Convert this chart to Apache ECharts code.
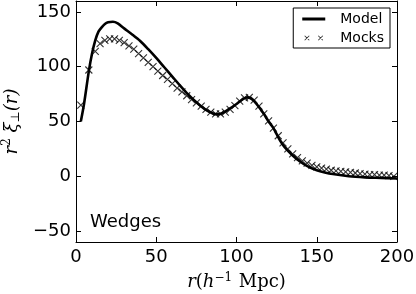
<!DOCTYPE html>
<html>
<head>
<meta charset="utf-8">
<script src="https://cdn.jsdelivr.net/npm/echarts@6/dist/echarts.min.js"></script>
<style>html,body{margin:0;padding:0;background:#fff}#c{width:416px;height:294px}</style>
</head>
<body>
<div id="c"></div>
<script>
// Model curve
const modelR = [3,5,8,10,12,14,16,18,20,23,26,30,35,40,45,50,55,60,65,70,75,80,85,88,91,95,100,104,107,110,113,117,120,123,127,130,135,140,145,150,155,160,170,180,190,200];
const modelV = [50,66,96,112,124,132,136,139,140.5,141,139.5,135,129.5,123.5,116,108,99.5,91,82.5,74.5,67.5,61.5,57.5,56.5,57.5,61,66,70.5,72,70,65,57,50,44,33,26.5,19,13,8.5,5.5,3.5,2,0,-1,-1.5,-2];
// Mocks
const mockR = [3,8,12,15,18,21,24,27,30,33,36,39,42,45,48,51,54,57,60,63,66,69,72,75,78,81,84,87,90,93,96,99,102,105,108,111,114,117,120,123,126,129,132,135,138,141,144,147,150,153,156,159,162,165,168,171,174,177,180,183,186,189,192,195,198];
const mockV = [65,97,114,121,124,125.5,125.5,124,122,119,116,112,108,104,100,96,92,88.5,84.5,80.5,77,73.5,70,67,64,61,58.5,57,57,58.5,61,64.5,68.5,71.5,72,69.5,64,57,50.5,44,37,30.5,25,20.5,17,14,12,10,8.5,7.5,6.5,5.5,5,4.5,4,3.5,3,2.5,2,1.5,1.5,1,1,0.5,0];
const yTicks = [-50,0,50,100,150];
const xTicks = [0,50,100,150,200];
const seriesNames = ['Model','Mocks'];
const panelLabel = 'Wedges';

const crossPath = 'path://M0 0L10 10M10 0L0 10';
function xx(cx,cy,a,d){
  return 'M'+(cx-a+d)+' '+(cy-a)+'L'+(cx+a)+' '+(cy+a-d)+'L'+(cx+a-d)+' '+(cy+a)+'L'+(cx-a)+' '+(cy-a+d)+'Z'+
         'M'+(cx+a-d)+' '+(cy-a)+'L'+(cx+a)+' '+(cy-a+d)+'L'+(cx-a+d)+' '+(cy+a)+'L'+(cx-a)+' '+(cy+a-d)+'Z';
}
const legendMockIcon = 'path://' + xx(4.5,2.5,2.5,0.6) + xx(17.5,2.5,2.5,0.6) + 'M0 0L0.01 0L0.01 0.01Z M21.99 5L22 5L22 4.99Z';
const legendModelIcon = 'path://M0 0L0.01 0L0.01 0.01Z M0 1L22 1L22 4L0 4Z M21.99 5L22 5L22 4.99Z';

const tickCommon = {show:true, inside:true, length:5, lineStyle:{color:'#000', width:1}};
const lineCommon = {show:true, onZero:false, lineStyle:{color:'#000', width:1}};
const labelFont = {fontFamily:'DejaVu Sans', fontSize:18, color:'#000'};

const chart = echarts.init(document.getElementById('c'), null, {renderer:'canvas'});
chart.setOption({
  animation:false,
  backgroundColor:'#fff',
  grid:{left:76, right:19, top:1, bottom:52, containLabel:false, outerBoundsMode:'none'},
  legend:{
    right:26, top:8, orient:'vertical',
    borderColor:'#000', borderWidth:1, borderRadius:0, backgroundColor:'#fff',
    padding:[4,6,3,9], itemGap:5, itemWidth:23, itemHeight:8,
    textStyle:{fontFamily:'DejaVu Sans', fontSize:14, color:'#000', padding:[0,0,0,10]},
    data:[{name:seriesNames[0], icon:legendModelIcon, itemStyle:{color:'#000'}},
          {name:seriesNames[1], icon:legendMockIcon, itemStyle:{color:'#000', borderWidth:0}}]
  },
  xAxis:[{
    type:'value', min:0, max:200, interval:50, position:'bottom',
    axisLine:lineCommon, axisTick:tickCommon, splitLine:{show:false},
    axisLabel:Object.assign({margin:6, customValues:xTicks}, labelFont),
    name:'{i|r}{n|(}{i|h}{s|−1}{n| Mpc)}', nameLocation:'middle', nameGap:30,
    nameTextStyle:{rich:{
      i:{fontFamily:'DejaVu Serif', fontStyle:'italic', fontSize:18, color:'#000'},
      n:{fontFamily:'DejaVu Serif', fontSize:18, color:'#000'},
      s:{fontFamily:'DejaVu Serif', fontSize:12, color:'#000', verticalAlign:'top', padding:[0,1,8,0]}
    }}
  },{
    type:'value', min:0, max:200, interval:50, position:'top',
    axisLine:lineCommon, axisTick:tickCommon, axisLabel:{show:false}, splitLine:{show:false}
  }],
  yAxis:[{
    type:'value', min:-60, max:160, position:'left',
    axisLine:lineCommon, axisTick:Object.assign({customValues:yTicks}, tickCommon), splitLine:{show:false},
    axisLabel:Object.assign({margin:5, customValues:yTicks, formatter:v=>String(v).replace('-','−')}, labelFont),
    name:'{i|r}{s|2}{n| }{i|ξ}{b|⊥}{i|(r)}', nameLocation:'middle', nameGap:52, nameRotate:90,
    nameTextStyle:{rich:{
      i:{fontFamily:'DejaVu Serif', fontStyle:'italic', fontSize:18, color:'#000'},
      n:{fontFamily:'DejaVu Serif', fontSize:18, color:'#000'},
      s:{fontFamily:'DejaVu Serif', fontSize:12, color:'#000', padding:[0,0,10,0]},
      b:{fontFamily:'DejaVu Serif', fontSize:12, color:'#000', padding:[8,0,0,0]}
    }}
  },{
    type:'value', min:-60, max:160, position:'right',
    axisLine:lineCommon, axisTick:Object.assign({customValues:yTicks}, tickCommon), axisLabel:{show:false}, splitLine:{show:false}
  }],
  graphic:[{
    type:'text', left:90, top:213,
    style:{text:panelLabel, fontFamily:'DejaVu Sans', fontSize:18, fill:'#000'}
  }],
  series:[{
    name:seriesNames[1], type:'scatter', xAxisIndex:0, yAxisIndex:0,
    symbol:crossPath, symbolSize:7,
    itemStyle:{color:'transparent', borderColor:'#000', borderWidth:1.1},
    data:mockR.map((r,i)=>[r, mockV[i]]), z:2
  },{
    name:seriesNames[0], type:'line', xAxisIndex:0, yAxisIndex:0,
    showSymbol:false, symbol:'none', smooth:0.3,
    lineStyle:{color:'#000', width:2.6},
    itemStyle:{color:'#000'},
    data:modelR.map((r,i)=>[r, modelV[i]]), z:3
  }]
});
</script>
</body>
</html>
